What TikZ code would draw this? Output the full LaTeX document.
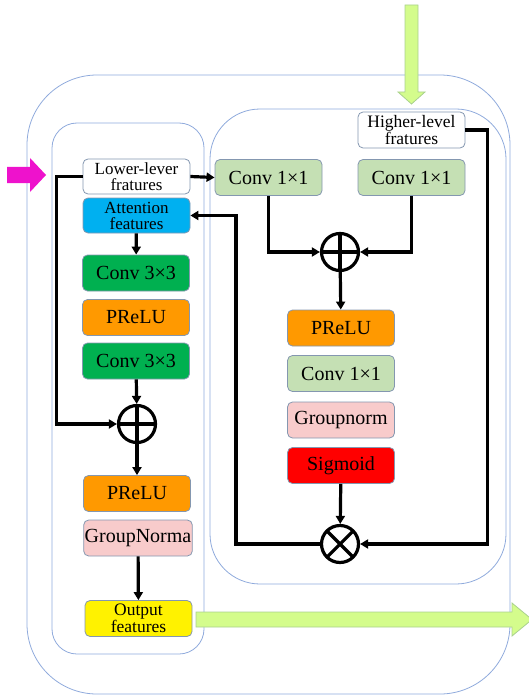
\documentclass[tikz,border=0pt]{standalone}
\usepackage{fontspec}
\setmainfont{Liberation Serif}
\usetikzlibrary{arrows.meta}
\definecolor{panel}{HTML}{8FAADC}
\definecolor{edge}{HTML}{8497B0}
\definecolor{attcol}{HTML}{00B0F0}
\definecolor{convcol}{HTML}{00B050}
\definecolor{relucol}{HTML}{FF9900}
\definecolor{normcol}{HTML}{F8CBCB}
\definecolor{lightconv}{HTML}{C5E0B4}
\definecolor{arrowgreen}{HTML}{D4FC8C}
\definecolor{arrowedge}{HTML}{A9D18E}
\definecolor{inmag}{HTML}{EE12CC}
\begin{document}
\begin{tikzpicture}[x=1pt,y=-1pt,
	blk/.style={draw=edge,line width=.8pt,rounded corners=5pt,minimum width=107pt,minimum height=36pt,inner sep=1pt,align=center,font=\fontsize{20}{15}\selectfont},
	twoline/.style={blk,font=\fontsize{17.5}{13}\selectfont},
	tight/.style={blk,minimum height=35pt,font=\fontsize{17}{16}\selectfont},
	conn/.style={line width=3.2pt,-{Triangle[length=8pt,width=9pt]}},
	op/.style={circle,draw,line width=3.2pt,minimum size=37pt,inner sep=0pt},
	sum/.style={op,path picture={\draw[line width=3.2pt] (path picture bounding box.north)--(path picture bounding box.south)
		(path picture bounding box.west)--(path picture bounding box.east);}},
	mult/.style={op,path picture={\draw[line width=3.2pt] (path picture bounding box.north west)--(path picture bounding box.south east)
		(path picture bounding box.south west)--(path picture bounding box.north east);}}]
	\useasboundingbox (0,0) rectangle (528,695);
	% panels
	\draw[panel,line width=.8pt,rounded corners=70pt] (27,75) rectangle (510,694);
	\draw[panel,line width=.8pt,rounded corners=25pt] (52,123) rectangle (204,654);
	\draw[panel,line width=.8pt,rounded corners=50pt] (210,109) rectangle (506,584);
	% big arrows
	\filldraw[fill=arrowgreen,draw=arrowedge,line width=.8pt] (405,5)--(418,5)--(418,92)--(425,92)--(411.5,104)--(398,92)--(405,92)--cycle;
	\filldraw[fill=arrowgreen,draw=arrowedge,line width=.8pt] (196,612)--(512,612)--(512,603)--(532,619.5)--(512,636)--(512,627)--(196,627)--cycle;
	\fill[inmag] (7,167)--(30,167)--(30,158)--(46,175)--(30,192)--(30,183)--(7,183)--cycle;
	% left branch
	\node[tight,fill=white] (low) at (136.5,176.5) {Lower-lever\\fratures};
	\node[tight,fill=attcol] (att) at (136.5,215.5) {Attention\\features};
	\node[blk,fill=convcol] (convA) at (136,273) {Conv 3×3};
	\node[blk,fill=relucol] (preluA) at (136,317.5) {PReLU};
	\node[blk,fill=convcol] (convB) at (136,361) {Conv 3×3};
	\node[sum] (plusA) at (137,424) {};
	\node[blk,fill=relucol] (preluB) at (137,493.5) {PReLU};
	\node[blk,fill=normcol] (gnA) at (138,538) {GroupNorma};
	\node[twoline,fill=yellow] (out) at (138.5,618.5) {Output\\features};
	% right branch
	\node[twoline,fill=white] (high) at (411.5,130) {Higher-level\\fratures};
	\node[blk,fill=lightconv] (c1) at (268.5,177.5) {Conv 1×1};
	\node[blk,fill=lightconv] (c2) at (411.5,177.5) {Conv 1×1};
	\node[sum] (plusB) at (340,252) {};
	\node[blk,fill=relucol] (preluC) at (341,328) {PReLU};
	\node[blk,fill=lightconv] (convC) at (341,373.5) {Conv 1×1};
	\node[blk,fill=normcol] (gnB) at (341,420) {Groupnorm};
	\node[blk,fill=red] (sig) at (341,465.5) {Sigmoid};
	\node[mult] (mul) at (340,544) {};
	% connectors
	\draw[conn] (low.west)--++(-26,0)|-(plusA.west);
	\draw[conn] (low.east)--(c1.west);
	\draw[conn] (att)--(convA);
	\draw[conn] (convB)--(plusA);
	\draw[conn] (plusA)--(preluB);
	\draw[conn] (gnA)--(out);
	\draw[conn] (c1.south)|-(plusB.west);
	\draw[conn] (c2.south)|-(plusB.east);
	\draw[conn] (plusB)--(preluC);
	\draw[conn] (sig)--(mul);
	\draw[conn] (high.east)--++(22,0)|-(mul.east);
	\draw[conn] (mul.west)--++(-84,0)|-(att.east);
\end{tikzpicture}
\end{document}
